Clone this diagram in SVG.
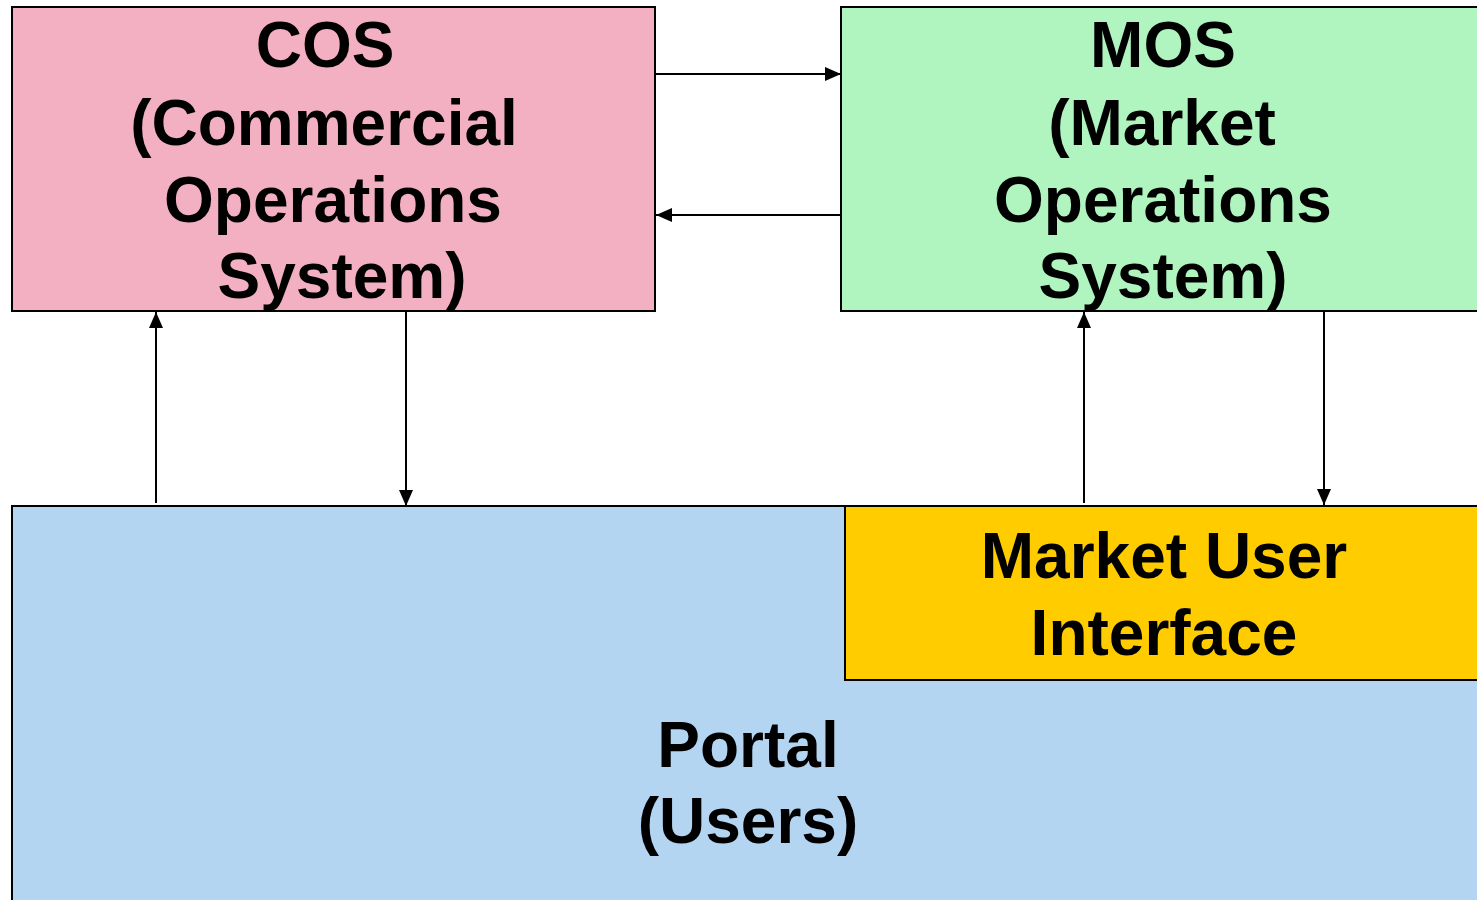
<svg xmlns="http://www.w3.org/2000/svg" width="1477" height="900" viewBox="0 0 1477 900">
<style>
.box{stroke:#000;stroke-width:2}
.t{font-family:"Liberation Sans",Arial,sans-serif;font-weight:bold;font-size:64px;fill:#000;text-anchor:middle}
.c{stroke:#000;stroke-width:2;fill:none}
</style>
<defs>
<marker id="a" viewBox="0 0 16 14" refX="16" refY="7" markerWidth="16" markerHeight="14" orient="auto" markerUnits="userSpaceOnUse">
<path d="M0,0 L16,7 L0,14 Z" fill="#000"/>
</marker>
</defs>
<rect width="1477" height="900" fill="#fff"/>
<g id="portal">
<rect class="box" x="12" y="506" width="1475" height="410" fill="#b3d5f2"/>
<text class="t" x="748" y="767">Portal</text>
<text class="t" x="748" y="843">(Users)</text>
</g>
<g id="cos">
<rect class="box" x="12" y="7" width="643" height="304" fill="#f4b0c3"/>
<text class="t" x="325" y="67">COS</text>
<text class="t" x="324" y="145">(Commercial</text>
<text class="t" x="333" y="222">Operations</text>
<text class="t" x="342" y="298">System)</text>
</g>
<g id="mos">
<rect class="box" x="841" y="7" width="650" height="304" fill="#b0f5c0"/>
<text class="t" x="1163" y="67">MOS</text>
<text class="t" x="1162" y="145">(Market</text>
<text class="t" x="1163" y="222">Operations</text>
<text class="t" x="1163" y="298">System)</text>
</g>
<g id="mui">
<rect class="box" x="845" y="506" width="645" height="174" fill="#ffcc00"/>
<text class="t" x="1164" y="578">Market User</text>
<text class="t" x="1164" y="655">Interface</text>
</g>
<g id="connectors">
<line class="c" x1="655" y1="74" x2="841" y2="74" marker-end="url(#a)"/>
<line class="c" x1="841" y1="215" x2="656" y2="215" marker-end="url(#a)"/>
<line class="c" x1="156" y1="503" x2="156" y2="312" marker-end="url(#a)"/>
<line class="c" x1="406" y1="311" x2="406" y2="506" marker-end="url(#a)"/>
<line class="c" x1="1084" y1="503" x2="1084" y2="312" marker-end="url(#a)"/>
<line class="c" x1="1324" y1="311" x2="1324" y2="505" marker-end="url(#a)"/>
</g>
</svg>
